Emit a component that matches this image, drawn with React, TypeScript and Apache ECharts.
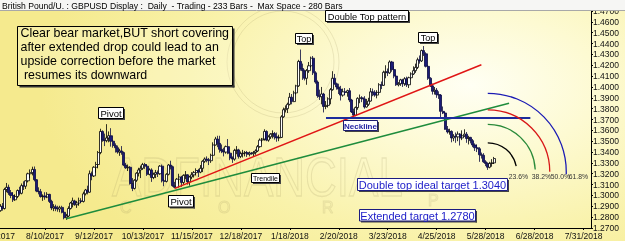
import React, { useEffect, useRef } from "react";
import * as echarts from "echarts";

// ---------- data ----------
const TITLE =
  "British Pound/U. : GBPUSD Display :  Daily  - Trading - 233 Bars -  Max Space - 280 Bars";
const AXIS_START = "2017-07-10"; // first category of the time axis (trading days)
const AXIS_BARS = 280; // "Max Space - 280 Bars"
const FIRST_BAR = 2; // first candle = 7/12/2017

type Bar = [number, number, number, number]; // open, close, low, high

const JUL_2017: Bar[] = [
  [1.286, 1.29, 1.285, 1.292], [1.29, 1.288, 1.286, 1.293], [1.288, 1.3055, 1.287, 1.307],
  [1.3055, 1.3075, 1.303, 1.3115], [1.3075, 1.3025, 1.3005, 1.31], [1.3025, 1.3, 1.2975, 1.305],
  [1.3, 1.296, 1.294, 1.303], [1.296, 1.299, 1.295, 1.301],
  [1.299, 1.3045, 1.2975, 1.3055], [1.3045, 1.302, 1.3, 1.308], [1.302, 1.309, 1.301, 1.311],
  [1.309, 1.3085, 1.305, 1.313], [1.3085, 1.3135, 1.306, 1.314],
  [1.3135, 1.32, 1.312, 1.321],
];
const AUG_2017: Bar[] = [
  [1.32, 1.321, 1.316, 1.324], [1.321, 1.324, 1.3185, 1.3265], [1.324, 1.3145, 1.313, 1.3267],
  [1.3145, 1.304, 1.303, 1.315],
  [1.304, 1.3035, 1.301, 1.3075], [1.3035, 1.299, 1.298, 1.306], [1.299, 1.2995, 1.295, 1.301],
  [1.2995, 1.2985, 1.296, 1.303], [1.2985, 1.301, 1.2975, 1.303],
  [1.301, 1.2945, 1.293, 1.3015], [1.2945, 1.2885, 1.2865, 1.296], [1.2885, 1.2895, 1.2855, 1.292],
  [1.2895, 1.288, 1.2855, 1.2915], [1.288, 1.2875, 1.285, 1.2905],
  [1.2875, 1.289, 1.2845, 1.2905], [1.289, 1.2845, 1.2835, 1.2905], [1.2845, 1.2795, 1.278, 1.2855],
  [1.2795, 1.281, 1.2775, 1.283], [1.281, 1.288, 1.28, 1.29],
  [1.288, 1.293, 1.287, 1.294], [1.293, 1.295, 1.289, 1.298], [1.295, 1.2915, 1.2905, 1.296],
  [1.2915, 1.293, 1.2885, 1.295],
];
const SEP_2017: Bar[] = [
  [1.293, 1.295, 1.2905, 1.298],
  [1.295, 1.2945, 1.293, 1.2975], [1.2945, 1.3015, 1.2935, 1.3035], [1.3015, 1.305, 1.3, 1.306],
  [1.305, 1.303, 1.301, 1.309], [1.303, 1.32, 1.3025, 1.323],
  [1.32, 1.318, 1.314, 1.322], [1.318, 1.326, 1.317, 1.327], [1.326, 1.3285, 1.321, 1.331],
  [1.3285, 1.3395, 1.325, 1.341], [1.3395, 1.359, 1.338, 1.3615],
  [1.359, 1.351, 1.3495, 1.36], [1.351, 1.3505, 1.3455, 1.357], [1.3505, 1.353, 1.349, 1.3657],
  [1.353, 1.355, 1.349, 1.359], [1.355, 1.35, 1.345, 1.362],
  [1.35, 1.346, 1.344, 1.351], [1.346, 1.344, 1.3395, 1.348], [1.344, 1.34, 1.3385, 1.346],
  [1.34, 1.341, 1.3365, 1.343], [1.341, 1.3395, 1.3375, 1.3455],
];
const OCT_2017: Bar[] = [
  [1.3395, 1.328, 1.327, 1.3405], [1.328, 1.3255, 1.3245, 1.33], [1.3255, 1.326, 1.3225, 1.3285],
  [1.326, 1.311, 1.31, 1.327], [1.311, 1.3065, 1.304, 1.316],
  [1.3065, 1.314, 1.3055, 1.315], [1.314, 1.3205, 1.3125, 1.3215], [1.3205, 1.3235, 1.3175, 1.3255],
  [1.3235, 1.325, 1.316, 1.3275], [1.325, 1.3285, 1.3235, 1.33],
  [1.3285, 1.327, 1.3245, 1.33], [1.327, 1.3195, 1.318, 1.3285], [1.3195, 1.3235, 1.3185, 1.325],
  [1.3235, 1.3165, 1.3125, 1.325], [1.3165, 1.3195, 1.315, 1.321],
  [1.3195, 1.321, 1.316, 1.3235], [1.321, 1.32, 1.317, 1.323], [1.32, 1.327, 1.319, 1.328],
  [1.327, 1.3135, 1.312, 1.3285], [1.3135, 1.313, 1.3085, 1.315],
  [1.313, 1.3195, 1.312, 1.3205], [1.3195, 1.328, 1.3185, 1.329],
];
const NOV_2017: Bar[] = [
  [1.328, 1.3265, 1.324, 1.332], [1.3265, 1.309, 1.308, 1.3275], [1.309, 1.3075, 1.3065, 1.3125],
  [1.3075, 1.315, 1.307, 1.316], [1.315, 1.317, 1.311, 1.32], [1.317, 1.312, 1.308, 1.318],
  [1.312, 1.3185, 1.31, 1.3195], [1.3185, 1.319, 1.315, 1.3225],
  [1.319, 1.3125, 1.31, 1.3195], [1.3125, 1.317, 1.309, 1.318], [1.317, 1.319, 1.315, 1.3215],
  [1.319, 1.321, 1.3165, 1.3225], [1.321, 1.323, 1.3185, 1.325],
  [1.323, 1.3215, 1.317, 1.3245], [1.3215, 1.325, 1.3205, 1.328], [1.325, 1.3315, 1.3215, 1.3325],
  [1.3315, 1.3335, 1.33, 1.335], [1.3335, 1.333, 1.3305, 1.336],
  [1.333, 1.332, 1.328, 1.3345], [1.332, 1.337, 1.33, 1.3385], [1.337, 1.3465, 1.3365, 1.349],
  [1.3465, 1.352, 1.346, 1.354],
];
const DEC_2017: Bar[] = [
  [1.352, 1.348, 1.3445, 1.355],
  [1.348, 1.3425, 1.3395, 1.355], [1.3425, 1.341, 1.339, 1.347], [1.341, 1.34, 1.336, 1.344],
  [1.34, 1.345, 1.3385, 1.346], [1.345, 1.339, 1.338, 1.352],
  [1.339, 1.3345, 1.3325, 1.3405], [1.3345, 1.3335, 1.33, 1.336], [1.3335, 1.3415, 1.332, 1.343],
  [1.3415, 1.342, 1.338, 1.3455], [1.342, 1.336, 1.334, 1.343],
  [1.336, 1.3385, 1.3345, 1.3405], [1.3385, 1.339, 1.335, 1.342], [1.339, 1.3395, 1.336, 1.341],
  [1.3395, 1.338, 1.3355, 1.341], [1.338, 1.339, 1.336, 1.3405],
  [1.339, 1.3385, 1.3375, 1.34], [1.3385, 1.3395, 1.336, 1.341], [1.3395, 1.341, 1.3375, 1.3425],
  [1.341, 1.345, 1.34, 1.3465], [1.345, 1.351, 1.344, 1.3525],
];
const JAN_2018: Bar[] = [
  [1.351, 1.352, 1.349, 1.353], [1.352, 1.359, 1.3505, 1.361], [1.359, 1.351, 1.35, 1.36],
  [1.351, 1.354, 1.3495, 1.3555], [1.354, 1.3565, 1.352, 1.3575],
  [1.3565, 1.357, 1.3525, 1.36], [1.357, 1.354, 1.3515, 1.3585], [1.354, 1.353, 1.3495, 1.358],
  [1.353, 1.3535, 1.35, 1.356], [1.3535, 1.3725, 1.353, 1.374],
  [1.3725, 1.379, 1.3715, 1.381], [1.379, 1.38, 1.3765, 1.383], [1.38, 1.384, 1.376, 1.3855],
  [1.384, 1.3905, 1.383, 1.3945], [1.3905, 1.3865, 1.384, 1.3935],
  [1.3865, 1.3945, 1.386, 1.3965], [1.3945, 1.401, 1.393, 1.402], [1.401, 1.4235, 1.4, 1.425],
  [1.4235, 1.417, 1.415, 1.4345], [1.417, 1.415, 1.4065, 1.4215],
  [1.415, 1.408, 1.406, 1.416], [1.408, 1.415, 1.402, 1.4165], [1.415, 1.4195, 1.413, 1.423],
];
const FEB_2018: Bar[] = [
  [1.4195, 1.4265, 1.418, 1.428], [1.4265, 1.413, 1.411, 1.4285],
  [1.413, 1.4045, 1.403, 1.4145], [1.4045, 1.392, 1.39, 1.406], [1.392, 1.391, 1.388, 1.3975],
  [1.391, 1.3935, 1.384, 1.4], [1.3935, 1.382, 1.3765, 1.3945],
  [1.382, 1.383, 1.3795, 1.387], [1.383, 1.389, 1.381, 1.3905], [1.389, 1.3975, 1.384, 1.399],
  [1.3975, 1.408, 1.3965, 1.4145], [1.408, 1.403, 1.402, 1.412],
  [1.403, 1.4, 1.3975, 1.404], [1.4, 1.398, 1.3935, 1.403], [1.398, 1.3925, 1.3875, 1.401],
  [1.3925, 1.3955, 1.391, 1.3985], [1.3955, 1.395, 1.3925, 1.399],
  [1.395, 1.3965, 1.391, 1.3975], [1.3965, 1.388, 1.386, 1.399], [1.388, 1.377, 1.376, 1.389],
];
const MAR_2018: Bar[] = [
  [1.377, 1.374, 1.3712, 1.38], [1.374, 1.381, 1.373, 1.382],
  [1.381, 1.3895, 1.379, 1.3905], [1.3895, 1.39, 1.385, 1.393], [1.39, 1.389, 1.386, 1.3915],
  [1.389, 1.3815, 1.38, 1.3915], [1.3815, 1.384, 1.381, 1.389],
  [1.384, 1.387, 1.3825, 1.39], [1.387, 1.3955, 1.3865, 1.399], [1.3955, 1.395, 1.3915, 1.3985],
  [1.395, 1.3925, 1.391, 1.397], [1.3925, 1.395, 1.3895, 1.397],
  [1.395, 1.402, 1.394, 1.4035], [1.402, 1.4015, 1.398, 1.405], [1.4015, 1.4135, 1.401, 1.415],
  [1.4135, 1.414, 1.408, 1.42], [1.414, 1.413, 1.41, 1.417],
  [1.413, 1.423, 1.412, 1.4245], [1.423, 1.416, 1.414, 1.424], [1.416, 1.41, 1.408, 1.419],
  [1.41, 1.402, 1.401, 1.4115], [1.402, 1.403, 1.4005, 1.4045],
];
const APR_2018: Bar[] = [
  [1.403, 1.4065, 1.401, 1.4075], [1.4065, 1.403, 1.4, 1.4075], [1.403, 1.4075, 1.401, 1.409],
  [1.4075, 1.402, 1.4, 1.4095], [1.402, 1.4085, 1.399, 1.4095],
  [1.4085, 1.412, 1.407, 1.4135], [1.412, 1.415, 1.411, 1.419], [1.415, 1.418, 1.413, 1.4215],
  [1.418, 1.425, 1.4165, 1.427], [1.425, 1.424, 1.4215, 1.429],
  [1.424, 1.4335, 1.423, 1.4345], [1.4335, 1.4305, 1.4285, 1.4377], [1.4305, 1.419, 1.418, 1.432],
  [1.419, 1.408, 1.4065, 1.42], [1.408, 1.401, 1.4, 1.409],
  [1.401, 1.396, 1.393, 1.403], [1.396, 1.397, 1.393, 1.4], [1.397, 1.393, 1.39, 1.399],
  [1.393, 1.3925, 1.389, 1.396], [1.3925, 1.3775, 1.371, 1.3935],
  [1.3775, 1.376, 1.375, 1.382],
];
const MAY_2018: Bar[] = [
  [1.376, 1.361, 1.3605, 1.377], [1.361, 1.3585, 1.357, 1.364], [1.3585, 1.359, 1.356, 1.3615],
  [1.359, 1.353, 1.349, 1.36],
  [1.353, 1.3545, 1.35, 1.3565], [1.3545, 1.354, 1.3485, 1.358], [1.354, 1.3565, 1.35, 1.359],
  [1.3565, 1.353, 1.346, 1.3575], [1.353, 1.355, 1.351, 1.36],
  [1.355, 1.3565, 1.354, 1.361], [1.3565, 1.3525, 1.3485, 1.3585], [1.3525, 1.3535, 1.347, 1.355],
  [1.3535, 1.3505, 1.348, 1.354], [1.3505, 1.3465, 1.3445, 1.352],
  [1.3465, 1.344, 1.341, 1.348], [1.344, 1.343, 1.34, 1.347], [1.343, 1.3375, 1.331, 1.3445],
  [1.3375, 1.337, 1.334, 1.3395], [1.337, 1.331, 1.33, 1.339],
  [1.331, 1.3295, 1.327, 1.3325], [1.3295, 1.326, 1.3236, 1.3305], [1.326, 1.3295, 1.325, 1.331],
  [1.3295, 1.33, 1.3265, 1.3335],
];
const JUN_2018: Bar[] = [[1.33, 1.334, 1.329, 1.3355]];

const BARS: Bar[] = [
  ...JUL_2017, ...AUG_2017, ...SEP_2017, ...OCT_2017, ...NOV_2017, ...DEC_2017,
  ...JAN_2018, ...FEB_2018, ...MAR_2018, ...APR_2018, ...MAY_2018, ...JUN_2018,
];

const Y_MIN = 1.27;
const Y_MAX = 1.47;
const Y_STEP = 0.01;
const LABEL_EVERY = 23; // one date label every 23 bars

// annotation anchors: [bar index, price]
const RED_TREND: [number, number][] = [[84, 1.3065], [228, 1.4205]];
const GREEN_TREND: [number, number][] = [[33, 1.2785], [241, 1.385]];
const NECKLINE: [number, number][] = [[155, 1.3715], [251, 1.3715]];
const FIB_CENTER: [number, number] = [231, 1.3218];
const FIB_LABELS = ["23.6%", "38.2%", "50.0%", "61.8%"];
const WATERMARK = "ADFINANCIAL";
const WATERMARK_SUB = ["C", "O", "R", "P"];

// ---------- styles ----------
const FONT = "'Liberation Sans', Arial, Helvetica, sans-serif";
const FIB_RADII = [29, 47.5, 62, 78.5];
const FIB_COLORS = ["#000000", "#2A8A3A", "#D81818", "#1A1AB4"];
const FIB_END = [-0.2, -0.05, 0, 0.03];
const FIB_LABEL_DX = [21, 44, 63, 81];
const WM_SUB_POS = [[120, 199], [218, 199], [322, 199], [428, 192]];

function tradingDays(start: string, n: number): string[] {
  const out: string[] = [];
  const d = new Date(start + "T00:00:00Z");
  while (out.length < n) {
    const wd = d.getUTCDay();
    if (wd !== 0 && wd !== 6) {
      out.push(`${d.getUTCMonth() + 1}/${d.getUTCDate()}/${d.getUTCFullYear()}`);
    }
    d.setUTCDate(d.getUTCDate() + 1);
  }
  return out;
}

const CATS = tradingDays(AXIS_START, AXIS_BARS);

function labelBox(o: {
  x: number; y: number; w: number; h: number; text: string; size: number;
  color?: string; bold?: boolean; fill?: string; stroke?: string;
}) {
  const stroke = o.stroke || "#000";
  return [
    { type: "rect", z: 100, shape: { x: o.x + o.w, y: o.y + 1.5, width: 1.5, height: o.h }, style: { fill: "#444" } },
    { type: "rect", z: 100, shape: { x: o.x + 1.5, y: o.y + o.h, width: o.w, height: 1.5 }, style: { fill: "#444" } },
    {
      type: "rect", z: 101,
      shape: { x: o.x, y: o.y, width: o.w, height: o.h },
      style: { fill: o.fill || "#FFFFFF", stroke, lineWidth: 1 },
    },
    {
      type: "text", z: 102, x: o.x + o.w / 2, y: o.y + o.h / 2 + 0.5,
      style: {
        text: o.text, fill: o.color || "#000", fontSize: o.size, fontFamily: FONT,
        fontWeight: o.bold ? "bold" : "normal", align: "center", verticalAlign: "middle",
      },
    },
  ];
}

function buildGraphics(center: number[]) {
  const [cx, cy] = center;
  const wm = "rgba(150,140,90,0.18)";
  const els: any[] = [
    // watermark
    { type: "circle", z: 0, shape: { cx: 283, cy: 62, r: 56 }, style: { fill: "none", stroke: wm, lineWidth: 1 } },
    { type: "circle", z: 0, shape: { cx: 283, cy: 62, r: 51 }, style: { fill: "none", stroke: wm, lineWidth: 1 } },
    {
      type: "text", z: 0, x: 112, y: 150, scaleY: 1.25,
      style: { text: WATERMARK, fill: "none", stroke: wm, lineWidth: 1, fontSize: 44, fontFamily: FONT, verticalAlign: "top" },
    },
    ...WATERMARK_SUB.map((t, k) => ({
      type: "text", z: 0, x: WM_SUB_POS[k][0], y: WM_SUB_POS[k][1],
      style: { text: t, fill: "none", stroke: wm, lineWidth: 1, fontSize: 16, fontFamily: FONT, verticalAlign: "top" },
    })),
    // title bar
    { type: "rect", z: 90, shape: { x: 0, y: 0, width: 625, height: 10.5 }, style: { fill: "#F6F6F4" } },
    { type: "line", z: 90, shape: { x1: 0, y1: 10.5, x2: 625, y2: 10.5 }, style: { stroke: "#A8A8A8", lineWidth: 1 } },
    {
      type: "text", z: 91, x: 2, y: 5.5,
      style: { text: TITLE, fill: "#000", fontSize: 8.6, fontFamily: FONT, verticalAlign: "middle" },
    },
    // comment box
    { type: "rect", z: 100, shape: { x: 232.5, y: 28.5, width: 2, height: 59 }, style: { fill: "#333" } },
    { type: "rect", z: 100, shape: { x: 19.5, y: 85.5, width: 215, height: 2 }, style: { fill: "#333" } },
    {
      type: "rect", z: 101, shape: { x: 17.5, y: 26.5, width: 215, height: 59 },
      style: { fill: "rgba(255,255,235,0.25)", stroke: "#000", lineWidth: 1 },
    },
    {
      type: "text", z: 102, x: 20.5, y: 26,
      style: {
        text: "Clear bear market,BUT short covering\nafter extended drop could lead to an\nupside correction before the market\n resumes its downward",
        fill: "#000", fontSize: 12.4, lineHeight: 14, fontFamily: FONT, verticalAlign: "top",
      },
    },
    ...labelBox({ x: 325.5, y: 10.5, w: 83, h: 11, text: "Double Top pattern", size: 9.3 }),
    ...labelBox({ x: 295.5, y: 33.5, w: 17, h: 10, text: "Top", size: 9 }),
    ...labelBox({ x: 418.5, y: 32.5, w: 19, h: 10, text: "Top", size: 9 }),
    ...labelBox({ x: 98.5, y: 107.5, w: 25, h: 11, text: "Pivot", size: 9.5 }),
    ...labelBox({ x: 168.5, y: 195.5, w: 25, h: 11.5, text: "Pivot", size: 9.5 }),
    ...labelBox({ x: 251.5, y: 173.5, w: 28, h: 9, text: "Trendile", size: 7 }),
    ...labelBox({ x: 343.5, y: 120.5, w: 34, h: 10, text: "Neckline", size: 8, bold: true, color: "#1C1CA0", stroke: "#1C1C70" }),
    ...labelBox({ x: 357.5, y: 178.5, w: 150, h: 12, text: "Double top ideal target 1.3040", size: 11, color: "#1C1CC8", stroke: "#1C1C80" }),
    ...labelBox({ x: 359.5, y: 209.5, w: 116, h: 11.5, text: "Extended target 1.2780", size: 11, color: "#1C1CC8", stroke: "#1C1C80" }),
  ];
  FIB_RADII.forEach((r, k) => {
    els.push({
      type: "arc", z: 50,
      shape: { cx, cy, r, startAngle: -Math.PI / 2, endAngle: FIB_END[k], clockwise: true },
      style: { stroke: FIB_COLORS[k], lineWidth: 1.3, fill: "none" },
    });
    els.push({
      type: "text", z: 50, x: cx + FIB_LABEL_DX[k], y: cy + 4.5,
      style: { text: FIB_LABELS[k], fill: "#333", fontSize: 6.8, fontFamily: FONT, verticalAlign: "middle" },
    });
  });
  return els;
}

function seg(pts: [number, number][], color: string, width: number) {
  return [
    { coord: [CATS[pts[0][0]], pts[0][1]], lineStyle: { color, width, type: "solid" } },
    { coord: [CATS[pts[1][0]], pts[1][1]] },
  ];
}

function buildOption(): any {
  const data = BARS.map((b, k) => [FIRST_BAR + k, b[0], b[1], b[2], b[3]]);
  return {
    animation: false,
    backgroundColor: "transparent",
    grid: { left: -5, right: 34, top: 11, bottom: 13, containLabel: false, outerBoundsMode: "none" },
    xAxis: {
      type: "category",
      data: CATS,
      boundaryGap: true,
      axisLine: { show: true, lineStyle: { color: "#000", width: 1 } },
      axisTick: { show: true, interval: LABEL_EVERY - 1, alignWithLabel: true, length: 2, lineStyle: { color: "#000" } },
      axisLabel: { interval: LABEL_EVERY - 1, fontSize: 8.5, color: "#111", margin: 3, fontFamily: FONT },
      splitLine: { show: false },
    },
    yAxis: {
      type: "value",
      position: "right",
      min: Y_MIN,
      max: Y_MAX,
      interval: Y_STEP,
      axisLine: { show: true, lineStyle: { color: "#000", width: 1 } },
      axisTick: { show: true, length: 2, lineStyle: { color: "#000" } },
      axisLabel: { fontSize: 8.5, color: "#111", margin: 2, fontFamily: FONT, formatter: (v: number) => v.toFixed(4) },
      splitLine: { show: false },
    },
    series: [
      {
        type: "candlestick",
        data,
        encode: { x: 0, y: [1, 2, 3, 4] },
        barWidth: 2.6,
        itemStyle: {
          color: "#FFFFFF",
          color0: "#1B1B78",
          borderColor: "#000000",
          borderColor0: "#0A0A40",
          borderWidth: 0.8,
        },
        markLine: {
          silent: true,
          symbol: ["none", "none"],
          label: { show: false },
          z: 10,
          data: [
            seg(RED_TREND, "#E01515", 1.5),
            seg(GREEN_TREND, "#1E8C3C", 1.5),
            seg(NECKLINE, "#1C2C9C", 2),
          ],
        },
      },
    ],
  };
}

export default function App() {
  const ref = useRef<HTMLDivElement>(null);
  useEffect(() => {
    const el = ref.current;
    if (!el) return;
    const chart = echarts.init(el, null, { renderer: "svg" });
    chart.setOption(buildOption());
    const center = chart.convertToPixel({ gridIndex: 0 }, [CATS[FIB_CENTER[0]], FIB_CENTER[1]]) as number[];
    chart.setOption({ graphic: { elements: buildGraphics(center) } });
    return () => chart.dispose();
  }, []);
  return (
    <div
      style={{
        position: "fixed", left: 0, top: 0, width: 625, height: 241, overflow: "hidden",
        background:
          "radial-gradient(ellipse 430px 240px at 470px 85px, #FFFFF4 0%, #FDFAD2 30%, #F9F2AA 65%, #F5EA8E 100%)",
      }}
    >
      <div ref={ref} style={{ width: 625, height: 241 }} />
    </div>
  );
}
